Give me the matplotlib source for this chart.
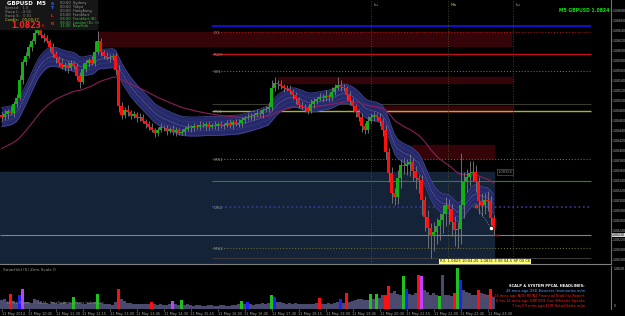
import numpy as np
import pandas as pd
import matplotlib
matplotlib.use("Agg")
import matplotlib.pyplot as plt
from matplotlib.patches import Rectangle
import matplotlib.transforms as mtransforms

# GBPUSD M5 - closes
closes = [
    1.08466, 1.08472, 1.08478, 1.08474, 1.08492, 1.08504, 1.08540, 1.08576, 1.08588, 1.08606,
    1.08618, 1.08634, 1.08642, 1.08630, 1.08624, 1.08618, 1.08606, 1.08592, 1.08584, 1.08574,
    1.08566, 1.08570, 1.08564, 1.08574, 1.08568, 1.08548, 1.08536, 1.08562, 1.08574, 1.08580,
    1.08574, 1.08596, 1.08618, 1.08596, 1.08588, 1.08584, 1.08586, 1.08588, 1.08560, 1.08488,
    1.08470, 1.08480, 1.08476, 1.08468, 1.08472, 1.08464, 1.08466, 1.08458, 1.08452, 1.08446,
    1.08440, 1.08434, 1.08440, 1.08446, 1.08444, 1.08438, 1.08442, 1.08436, 1.08440, 1.08434,
    1.08436, 1.08442, 1.08446, 1.08444, 1.08448, 1.08446, 1.08450, 1.08448, 1.08452, 1.08446,
    1.08450, 1.08448, 1.08452, 1.08448, 1.08450, 1.08454, 1.08450, 1.08456, 1.08452, 1.08454,
    1.08460, 1.08464, 1.08466, 1.08468, 1.08470, 1.08474, 1.08472, 1.08480, 1.08482, 1.08486,
    1.08524, 1.08534, 1.08532, 1.08528, 1.08524, 1.08522, 1.08518, 1.08510, 1.08502, 1.08490,
    1.08486, 1.08484, 1.08478, 1.08492, 1.08498, 1.08502, 1.08506, 1.08504, 1.08508, 1.08506,
    1.08516, 1.08524, 1.08530, 1.08526, 1.08524, 1.08510, 1.08498, 1.08488, 1.08476, 1.08466,
    1.08448, 1.08440, 1.08458, 1.08466, 1.08470, 1.08466, 1.08458, 1.08440, 1.08396, 1.08354,
    1.08314, 1.08306, 1.08344, 1.08370, 1.08368, 1.08372, 1.08376, 1.08358, 1.08344, 1.08340,
    1.08300, 1.08266, 1.08244, 1.08228, 1.08236, 1.08248, 1.08260, 1.08272, 1.08290, 1.08282,
    1.08256, 1.08240, 1.08242, 1.08290, 1.08336, 1.08346, 1.08354, 1.08356, 1.08336, 1.08298,
    1.08290, 1.08300, 1.08298, 1.08264, 1.08240,
]
first_open = 1.08470

# wick lengths in points (0.00001)
wick_up = [
    6, 8, 4, 10, 6, 8, 10, 6, 8, 6, 4, 8, 6, 10, 4,
    6, 4, 8, 6, 4, 10, 6, 8, 6, 4, 6, 8, 12, 6, 4,
    8, 22, 20, 6, 4, 8, 6, 4, 6, 10, 8, 6, 10, 4, 6,
    4, 8, 6, 4, 6, 8, 4, 6, 8, 4, 6, 4, 8, 6, 4,
    6, 4, 8, 4, 6, 4, 8, 6, 4, 6, 4, 8, 4, 6, 4,
    6, 8, 4, 6, 8, 6, 4, 8, 6, 4, 8, 6, 4, 6, 10,
    16, 12, 6, 8, 4, 6, 8, 4, 6, 4, 8, 6, 4, 10, 6,
    4, 8, 6, 12, 4, 10, 8, 16, 10, 6, 4, 8, 6, 4, 6,
    8, 6, 10, 8, 6, 4, 8, 6, 10, 8, 12, 10, 16, 12, 14,
    10, 16, 8, 10, 6, 10, 8, 14, 10, 20, 16, 14, 18, 16, 12,
    10, 12, 14, 104, 20, 16, 24, 22, 14, 10, 16, 14, 18, 10, 6,
]
wick_dn = [
    8, 6, 10, 4, 8, 6, 4, 8, 6, 4, 8, 6, 4, 6, 8,
    4, 8, 6, 10, 6, 4, 8, 10, 4, 6, 8, 12, 4, 6, 8,
    4, 6, 4, 8, 6, 4, 8, 6, 10, 12, 8, 6, 8, 6, 4,
    8, 6, 4, 8, 6, 4, 8, 6, 4, 6, 8, 4, 6, 8, 4,
    4, 6, 4, 8, 6, 4, 6, 4, 8, 6, 4, 6, 8, 4, 6,
    4, 6, 8, 4, 6, 8, 6, 4, 6, 8, 4, 6, 8, 4, 6,
    8, 6, 10, 6, 8, 4, 6, 8, 10, 6, 4, 8, 6, 4, 8,
    6, 4, 8, 6, 10, 8, 6, 4, 8, 6, 10, 8, 12, 10, 8,
    12, 8, 6, 4, 8, 6, 10, 12, 14, 18, 20, 16, 14, 20, 16,
    18, 24, 20, 22, 26, 30, 28, 40, 44, 30, 24, 28, 26, 24, 30,
    28, 32, 36, 30, 26, 20, 18, 16, 20, 26, 22, 18, 20, 14, 10,
]

volumes = [
    380, 420, 300, 650, 350, 280, 600, 880, 320, 300, 260, 420, 380, 300, 280,
    260, 240, 300, 280, 220, 260, 300, 240, 280, 520, 300, 260, 240, 220, 260,
    280, 300, 650, 260, 240, 200, 220, 180, 300, 880, 420, 360, 280, 260, 240,
    220, 200, 240, 220, 200, 300, 220, 180, 200, 180, 160, 220, 350, 200, 180,
    400, 180, 200, 160, 140, 180, 160, 150, 140, 180, 160, 150, 140, 160, 180,
    150, 140, 160, 180, 200, 350, 220, 300, 200, 180, 220, 200, 260, 240, 280,
    600, 550, 320, 300, 260, 240, 280, 220, 260, 240, 220, 200, 240, 220, 200,
    260, 500, 240, 220, 260, 240, 280, 300, 450, 260, 700, 300, 340, 380, 420,
    460, 400, 380, 650, 420, 650, 500, 620, 600, 1000, 700, 780, 650, 600, 1450,
    900, 680, 620, 700, 1500, 1450, 820, 760, 640, 700, 620, 580, 1500, 640, 600,
    560, 700, 1800, 1300, 820, 760, 700, 640, 600, 850, 720, 680, 600, 900, 520,
]
vol_marked_bars = [3, 6, 7, 24, 32, 39, 50, 57, 60, 80, 82, 90, 91, 106, 113, 115,
                   123, 125, 128, 129, 134, 135, 139, 140, 146, 151, 152, 153, 159, 163]
vol_marked_kind = ["r", "b", "m", "g", "g", "r", "r", "m", "g", "g", "b", "g", "b", "r", "b", "r",
                   "g", "g", "r", "r", "g", "b", "r", "m", "g", "r", "g", "b", "r", "r"]

# pivot / level lines
level_names = ["", "D1", "R2H", "W1", "", "PV1", "MS1", "", "DS1", "", "MS2", ""]
level_prices = [1.08648, 1.08636, 1.08592, 1.08558, 1.08492, 1.08478,
                1.08382, 1.08338, 1.08286, 1.08230, 1.08204, 1.08184]

# supply zones (low, high, first bar, last bar)
zone_low = [1.08608, 1.08534, 1.08476, 1.08384]
zone_high = [1.08636, 1.08546, 1.08488, 1.08410]
zone_start = [32.3, 92.0, 124.0, 136.7]
zone_end = [170.0, 170.0, 170.0, 164.0]

signal_bars = [158.2, 163.2]
signal_prices = [1.08288, 1.08244]

day_breaks = [123.2, 148.8, 170.5]
day_names = ["Lu", "Ma", "Lu"]

time_labels = ["11 May 2014", "11 May 10:45", "11 May 11:30", "11 May 12:15", "11 May 13:00",
               "11 May 13:45", "11 May 14:30", "11 May 15:15", "11 May 16:00", "11 May 16:45",
               "11 May 17:30", "11 May 18:15", "11 May 19:00", "11 May 19:45", "11 May 20:30",
               "11 May 21:15", "11 May 22:00", "11 May 22:45", "11 May 23:30"]

c = np.array(closes)
o = np.concatenate([[first_open], c[:-1]])
hi = np.maximum(o, c) + np.array(wick_up) * 1e-5
lo = np.minimum(o, c) - np.array(wick_dn) * 1e-5
x = np.arange(len(c))

W, H = 625, 316
fig = plt.figure(figsize=(W / 100, H / 100), dpi=100, facecolor="black")
ax = fig.add_axes([0, 52 / H, 611 / W, 264 / H], facecolor="black")
axv = fig.add_axes([0, 7 / H, 611 / W, 43 / H], facecolor="black")

xmax = 611 / 3 - 0.5
ax.set_xlim(-0.5, xmax)
ax.set_ylim(1.08700 - 0.00528, 1.08700)

# navy box behind the last leg
ax.add_patch(Rectangle((-0.5, 1.08150), 164.5, 1.08356 - 1.08150, color="#142337", zorder=0))
for lo_, hi_, s, e in zip(zone_low, zone_high, zone_start, zone_end):
    ax.add_patch(Rectangle((s, lo_), e - s, hi_ - lo_, color="#350408", zorder=0.5))

level_style = [("#1010d0", "-", 1.4), ("#a01010", ":", 0.8), ("#c01010", "-", 1.0),
               ("#6a6a2a", ":", 0.8), ("#3a3a2c", "-", 0.8), ("#b0b030", "-", 1.0),
               ("#6a6a2a", ":", 0.8), ("#1f8a1f", "-", 0.8), ("#3a3a9a", ":", 1.2),
               ("#7a8290", "-", 0.8), ("#6a6a2a", ":", 0.8), ("#3a3a3a", "-", 0.8)]
for name, p, (col, ls, lw) in zip(level_names, level_prices, level_style):
    x0 = -0.5 if p == 1.08230 else 70.2
    ax.hlines(p, x0, 196.5, color=col, ls=ls, lw=lw, zorder=1)
    if name:
        ax.text(70.8, p - 0.00002, name + " ·", color="#9a9a9a", fontsize=3, va="center", zorder=2)

for b, name in zip(day_breaks, day_names):
    ax.axvline(b, color="#58582c", ls=(0, (1, 2)), lw=0.6, zorder=1)
    ax.text(b + 0.8, 1.08694, name, color="#b0b060", fontsize=3, va="top")

# ribbon and slow average
ema = pd.Series(c).ewm(span=14, adjust=False).mean().values
band = 0.00019
ax.fill_between(x, ema - band, ema + band, color="#25296a", lw=0, zorder=2)
ax.plot(x, ema + band, color="#40468e", lw=0.6, zorder=2)
ax.plot(x, ema - band, color="#40468e", lw=0.6, zorder=2)
ax.plot(x, ema + 0.00009, color="#343980", lw=0.5, zorder=2)
ax.plot(x, ema - 0.00009, color="#343980", lw=0.5, zorder=2)
ax.plot(x, ema, color="#7a7fb0", lw=0.4, ls=(0, (2, 1)), zorder=2)

slow = [1.08400]
for v in c:
    slow.append(slow[-1] + (v - slow[-1]) * 2 / 46)
ax.plot(x, slow[1:], color="#8a1f5a", lw=0.8, zorder=2)

# candles
bull = c >= o
ax.vlines(x, lo, hi, color="#7d7d7d", lw=0.6, zorder=3)
body = np.maximum(np.abs(c - o), 0.00001)
ax.bar(x[bull], body[bull], bottom=np.minimum(o, c)[bull], width=0.7, color="#12b012", zorder=4)
ax.bar(x[~bull], body[~bull], bottom=np.minimum(o, c)[~bull], width=0.7, color="#ff1010", zorder=4)

ax.plot(signal_bars, signal_prices, color="#9a9a9a", ls=":", lw=0.6, zorder=5)
ax.scatter(signal_bars, signal_prices, s=10, facecolor="white", edgecolor="#202020", lw=0.6, zorder=6)
ax.scatter(signal_bars[:1], signal_prices[:1], s=2, color="#d02020", zorder=7)
ax.hlines(c[-1] - 0.0001, 164.3, 165.8, color="red", lw=1, zorder=5)

# price scale (narrow font so the labels fit the thin scale)
axis_font = ["Liberation Sans Narrow", "Liberation Sans", "DejaVu Sans"]
ax.yaxis.tick_right()
ticks = np.arange(1.08180, 1.08700, 0.0002)
ax.set_yticks(ticks)
ax.set_yticklabels([f"{t:.5f}" for t in ticks], family=axis_font)
ax.tick_params(axis="y", colors="#a8a8a8", labelsize=2.6, length=1, width=0.4, pad=0.4)
ax.set_xticks([])
for s in ax.spines.values():
    s.set_visible(False)
ax.spines["right"].set_visible(True)
ax.spines["right"].set_color("#707070")
ax.spines["bottom"].set_visible(True)
ax.spines["bottom"].set_color("#808080")
ax.spines["bottom"].set_linewidth(0.8)

trans = mtransforms.blended_transform_factory(ax.transAxes, ax.transData)
ax.text(1.002, c[-1] - 0.0001, f"{c[-1] - 0.0001:.5f}", transform=trans, fontsize=2.6,
        family=axis_font, color="black", va="center",
        bbox=dict(facecolor="#d8d8d8", edgecolor="none", pad=0.3))
ax.text(165.5, 1.08356, "1.08356", fontsize=2.6, color="#8a8a8a", va="center",
        bbox=dict(facecolor="none", edgecolor="#6a6a6a", lw=0.4, pad=0.4))

# volume
vcol = ["#4a4a6e"] * len(volumes)
kind_col = {"r": "#ff1010", "g": "#20c020", "b": "#2020ff", "m": "#c040ff"}
for b, k in zip(vol_marked_bars, vol_marked_kind):
    vcol[b] = kind_col[k]
axv.bar(x, volumes, width=0.7, color=vcol)
axv.set_xlim(-0.5, xmax)
axv.set_ylim(0, 1900)
axv.set_yticks([])
for s in axv.spines.values():
    s.set_visible(False)
axv.spines["right"].set_visible(True)
axv.spines["right"].set_color("#707070")
axv.set_xticks(np.arange(len(time_labels)) * 9)
axv.set_xticklabels(time_labels, ha="left")
axv.tick_params(axis="x", colors="#a8a8a8", labelsize=2.5, length=1.5, width=0.4, pad=0.5)
axv.text(1.004, 0.97, "1.882K", transform=axv.transAxes, fontsize=2.6, family=axis_font,
         color="#a8a8a8", va="top")
axv.text(1.004, 0.02, "0", transform=axv.transAxes, fontsize=2.6, family=axis_font,
         color="#a8a8a8", va="bottom")
axv.text(0.005, 0.95, "SmartVol (5) Zero Scale 0", transform=axv.transAxes, fontsize=3,
         color="#9a9a9a", va="top")
axv.text(0.01, 0.12, "11 Feb Forex - \u00a9 2014 - FreeSystems Forex Indicators",
         transform=axv.transAxes, fontsize=2.6, color="#8a8a8a")

news = ["SCALP & SYSTEM PPCAL HEADLINES:",
        "48 mins ago USD Business Inventories m/m",
        "2 hrs 14 mins ago NZD REINZ Financial Stability Report",
        "6 hrs 14 mins ago GBP BOE Gov Wheeler Speaks",
        "7 hrs 59 mins ago EUR Retail Sales m/m"]
news_col = ["white", "#5a9aff", "#ff2020", "#ff2020", "#ff2020"]
for i, (t, col) in enumerate(zip(news, news_col)):
    fig.text(585 / W, 1 - (286 + 5 * i) / H, t, fontsize=2.6, color=col, ha="right", va="center",
             weight="bold" if i == 0 else "normal")

# info panel top left
fig.patches.append(Rectangle((0, 1 - 29 / H), 97 / W, 29 / H, transform=fig.transFigure,
                             color="#161616", zorder=10))
fig.text(7 / W, 1 - 3.5 / H, "GBPUSD  M5", fontsize=4, color="white", weight="bold", va="center", zorder=11)
info = ["Spread:   1.0", "Swap L:  -0.55", "Swap S:   0.01"]
for i, t in enumerate(info):
    fig.text(5 / W, 1 - (8 + 4 * i) / H, t, fontsize=2.6, color="#8a8a8a", va="center", zorder=11)
fig.text(5 / W, 1 - 20 / H, "Candle:   00:00:27", fontsize=2.6, color="#e0d020", va="center", zorder=11)
fig.text(11 / W, 1 - 25 / H, "1.0823", fontsize=5.6, color="#ff2020", weight="bold", va="center", zorder=11)
fig.text(42 / W, 1 - 26 / H, "6", fontsize=3, color="#ff2020", va="center", zorder=11)
for t, yy, col in [("S", 4, "#3070ff"), ("T", 8, "#3070ff"), ("L", 16, "#ff2020"), ("R", 24, "#ff2020")]:
    fig.text(51 / W, 1 - yy / H, t, fontsize=3.2, color=col, weight="bold", va="center", zorder=11)
sessions = ["00:00  Sydney", "00:00  Tokyo", "00:00  HongKong", "03:00  Frankfurt",
            "08:00  Frankfurt (B)", "08:00  London (Dc \u00bd)", "13:00  NewYork"]
for i, t in enumerate(sessions):
    col = "#9a9a9a" if i < 4 else "#40c040"
    fig.text(60 / W, 1 - (3 + 3.9 * i) / H, t, fontsize=2.6, color=col, va="center", zorder=11)

fig.text(609 / W, 1 - 10 / H, "M5 GBPUSD 1.0824", fontsize=3.3, color="#10e010", weight="bold",
         ha="right", va="center")
fig.text(440 / W, 1 - 261.5 / H, "R3: 1.0823 10:04:25 1.0831 3 08 04.5 SP 00 CE", fontsize=2.7,
         color="#202020", va="center",
         bbox=dict(facecolor="#ffff70", edgecolor="none", pad=0.5))

fig.savefig("out.png", dpi=100, facecolor="black")
